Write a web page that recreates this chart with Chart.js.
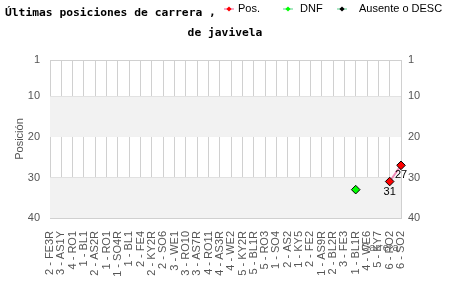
<!DOCTYPE html>
<html><head><meta charset="utf-8">
<script src="https://cdn.jsdelivr.net/npm/chart.js@4"></script>
<style>html,body{margin:0;padding:0;background:#fff}#wrap{width:450px;height:300px}</style>
</head><body><div id="wrap"><canvas id="c" width="450" height="300"></canvas></div>
<script>
const categories = ["2 - FE3R","3 - AS1Y","4 - RO1","1 - BL1","2 - AS2R","1 - RO1","1 - SO4R","1 - BL1","2 - FE4","2 - KY2R","2 - SO6","3 - WE1","3 - RO10","3 - AS7R","4 - RO11","4 - AS3R","4 - WE2","5 - KY2R","5 - BL1R","5 - RO3","1 - SO4","2 - AS2","1 - KY5","2 - FE2","1 - AS9R","2 - BL2R","3 - FE3","1 - BL1R","4 - WE6","5 - KY7","6 - RO2","6 - SO2"];
const posValues = [null,null,null,null,null,null,null,null,null,null,null,null,null,null,null,null,null,null,null,null,null,null,null,null,null,null,null,null,null,null,31,27];
const dnfValues = [null,null,null,null,null,null,null,null,null,null,null,null,null,null,null,null,null,null,null,null,null,null,null,null,null,null,null,33,null,null,null,null];
const absentValues = [null,null,null,null,null,null,null,null,null,null,null,null,null,null,null,null,null,null,null,null,null,null,null,null,null,null,null,null,null,null,null,null];
const yTicks = [1,10,20,30,40];
const bands = [[10,20],[30,40]];
const titleLines = ["Últimas posiciones de carrera ,", "de javivela"];
const seriesNames = ["Pos.", "DNF", "Ausente o DESC"];
const xTitle = "Carrera";
const yTitle = "Posición";

Chart.defaults.font.family = "'Liberation Sans', Arial, sans-serif";
Chart.defaults.font.size = 11;

const deco = {
  id: 'deco',
  beforeDatasetsDraw(chart) {
    const ctx = chart.ctx, a = chart.chartArea, y = chart.scales.y;
    ctx.save();
    ctx.fillStyle = '#f2f2f2';
    bands.forEach(([v0, v1]) => {
      const p0 = y.getPixelForValue(v0), p1 = y.getPixelForValue(v1);
      ctx.fillRect(a.left, p0, a.right - a.left, p1 - p0);
    });
    ctx.restore();
  },
  afterDatasetsDraw(chart) {
    const ctx = chart.ctx;
    ctx.save();
    ctx.font = "11px 'Liberation Sans', Arial, sans-serif";
    ctx.fillStyle = '#000';
    ctx.textAlign = 'center';
    ctx.textBaseline = 'middle';
    const meta = chart.getDatasetMeta(0);
    meta.data.forEach((pt, i) => {
      const v = chart.data.datasets[0].data[i];
      if (v == null) return;
      ctx.fillText(String(v), pt.x, pt.y + 10);
    });
    ctx.restore();
  },
  afterDraw(chart) {
    const ctx = chart.ctx, a = chart.chartArea;
    ctx.save();
    ctx.font = "bold 11.3px 'DejaVu Sans Mono', monospace";
    ctx.fillStyle = '#000';
    ctx.textBaseline = 'middle';
    ctx.textAlign = 'left';
    ctx.fillText(titleLines[0], 5, 13);
    ctx.textAlign = 'center';
    ctx.fillText(titleLines[1], 225, 33);
    const lx = [224, 283, 337], tx = [238, 300, 359];
    ctx.font = "11px 'Liberation Sans', Arial, sans-serif";
    chart.data.datasets.forEach((ds, i) => {
      const cy = 9;
      ctx.strokeStyle = ds.legendLine;
      ctx.lineWidth = 1.5;
      ctx.beginPath(); ctx.moveTo(lx[i], cy); ctx.lineTo(lx[i] + 10, cy); ctx.stroke();
      const cx = lx[i] + 5, r = 2.6;
      ctx.fillStyle = ds.pointBackgroundColor;
      ctx.beginPath(); ctx.moveTo(cx, cy - r); ctx.lineTo(cx + r, cy); ctx.lineTo(cx, cy + r); ctx.lineTo(cx - r, cy); ctx.closePath(); ctx.fill();
      ctx.fillStyle = '#000';
      ctx.textAlign = 'left';
      ctx.fillText(ds.label, tx[i], cy);
    });
    ctx.fillStyle = '#666';
    ctx.textAlign = 'center';
    ctx.fillText(xTitle, a.right - 21, a.bottom + 30);
    ctx.restore();
  }
};

const yCommon = {
  type: 'linear', min: 1, max: 40, reverse: true,
  afterBuildTicks(s) { s.ticks = yTicks.map(v => ({ value: v })); },
  border: { display: false }
};

new Chart(document.getElementById('c'), {
  type: 'line',
  data: {
    labels: categories,
    datasets: [
      { label: seriesNames[0], data: posValues, borderColor: '#f08cb8', borderWidth: 2, legendLine: '#f08cb8',
        pointStyle: 'rectRot', pointRadius: 4.3, pointBackgroundColor: '#ff0000', pointBorderColor: '#000', pointBorderWidth: 1, spanGaps: false },
      { label: seriesNames[1], data: dnfValues, borderColor: '#8edfb0', borderWidth: 2, showLine: false, legendLine: '#8edfb0',
        pointStyle: 'rectRot', pointRadius: 4.3, pointBackgroundColor: '#00ff00', pointBorderColor: '#000', pointBorderWidth: 1 },
      { label: seriesNames[2], data: absentValues, borderColor: '#8edfb0', borderWidth: 2, showLine: false, legendLine: '#8edfb0',
        pointStyle: 'rectRot', pointRadius: 4.3, pointBackgroundColor: '#000000', pointBorderColor: '#000', pointBorderWidth: 1 }
    ]
  },
  options: {
    responsive: false, animation: false,
    layout: { padding: { top: 60, left: 0, right: 0, bottom: 0 } },
    plugins: { legend: { display: false }, title: { display: false }, tooltip: { enabled: false } },
    scales: {
      x: {
        offset: false,
        grid: { color: '#d0d0d0', drawTicks: false },
        border: { color: '#d0d0d0' },
        ticks: { autoSkip: false, minRotation: 90, maxRotation: 90, padding: 13, color: '#555', font: { size: 11 } },
        afterFit(s) { s.height = 82; }
      },
      y: Object.assign({}, yCommon, {
        position: 'left',
        grid: { color: '#d0d0d0', drawTicks: false },
        ticks: { color: '#555', font: { size: 11 }, padding: 10 },
        title: { display: true, text: yTitle, color: '#555', font: { size: 11 }, padding: { top: 13, bottom: 0 } },
        afterFit(s) { s.width = 50; }
      }),
      y2: Object.assign({}, yCommon, {
        position: 'right',
        grid: { display: false, drawTicks: false },
        ticks: { color: '#555', font: { size: 11 }, padding: 7 },
        afterFit(s) { s.width = 49; }
      })
    }
  },
  plugins: [deco]
});
</script>
</body></html>
